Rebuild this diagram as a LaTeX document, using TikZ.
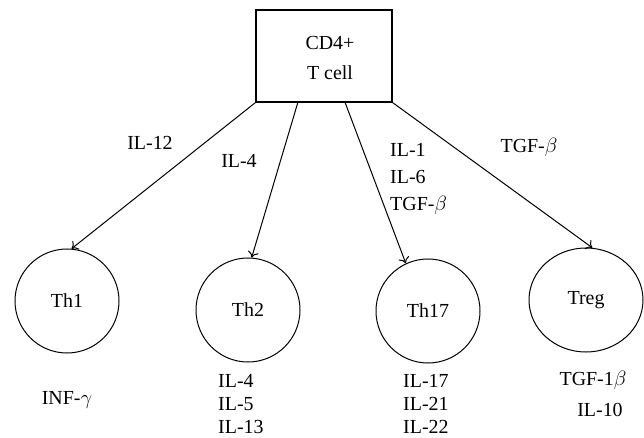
\documentclass[tikz,border=0pt]{standalone}
\usepackage{fontspec}
\setmainfont{Liberation Serif}
\usetikzlibrary{shapes.geometric,arrows.meta,calc}
\begin{document}
\begin{tikzpicture}[x=1bp,y=-1bp,
  every node/.style={font=\fontsize{20}{23}\selectfont, inner sep=0pt},
  cell/.style={draw, line width=1bp, circle, minimum size=104bp},
  conn/.style={line width=1bp, -{To[length=6bp,width=11bp]}},
  lbl/.style={align=left, anchor=west}]
\useasboundingbox (0,0) rectangle (644,438);
% root
\node[draw, line width=1.1bp, minimum width=136bp, minimum height=92bp] (box) at (324,56) {};
\node[align=center, font=\fontsize{20}{30}\selectfont] (boxtext) at (330,58) {CD4+\\T cell};
% cells
\node[cell] (th1) at (67,301) {Th1};
\node[cell] (th2) at (248,310) {Th2};
\node[cell] (th17) at (428,311) {Th17};
\node[draw, line width=1bp, ellipse, minimum width=114bp, minimum height=104bp] (treg) at (586,300) {Treg};
% start points
\coordinate (s1) at (box.south west);
\coordinate (s2) at ($(box.south west)!0.309!(box.south east)$);
\coordinate (s3) at ($(box.south west)!0.654!(box.south east)$);
\coordinate (s4) at (box.south east);
% connectors
\draw[conn] (s1) -- (th1.85);
\draw[conn] (s2) -- (th2.86);
\draw[conn] (s3) -- (th17.115);
\draw[conn] (s4) -- (treg.83);
% edge labels
\node (l1) at (150,143) {IL-12};
\node (l2) at (239,161) {IL-4};
\node[lbl, font=\fontsize{20}{27}\selectfont] (l3) at (390,179) {IL-1\\IL-6\\TGF-$\beta$};
\node (l4) at (529,147) {TGF-$\beta$};
% products
\node (p1) at (67,400) {INF-$\gamma$};
\node[lbl] (p2) at (218,404) {IL-4\\IL-5\\IL-13};
\node[lbl] (p3) at (403,404) {IL-17\\IL-21\\IL-22};
\node (p4a) at (593,380) {TGF-1$\beta$};
\node (p4b) at (600,410) {IL-10};
\end{tikzpicture}
\end{document}
